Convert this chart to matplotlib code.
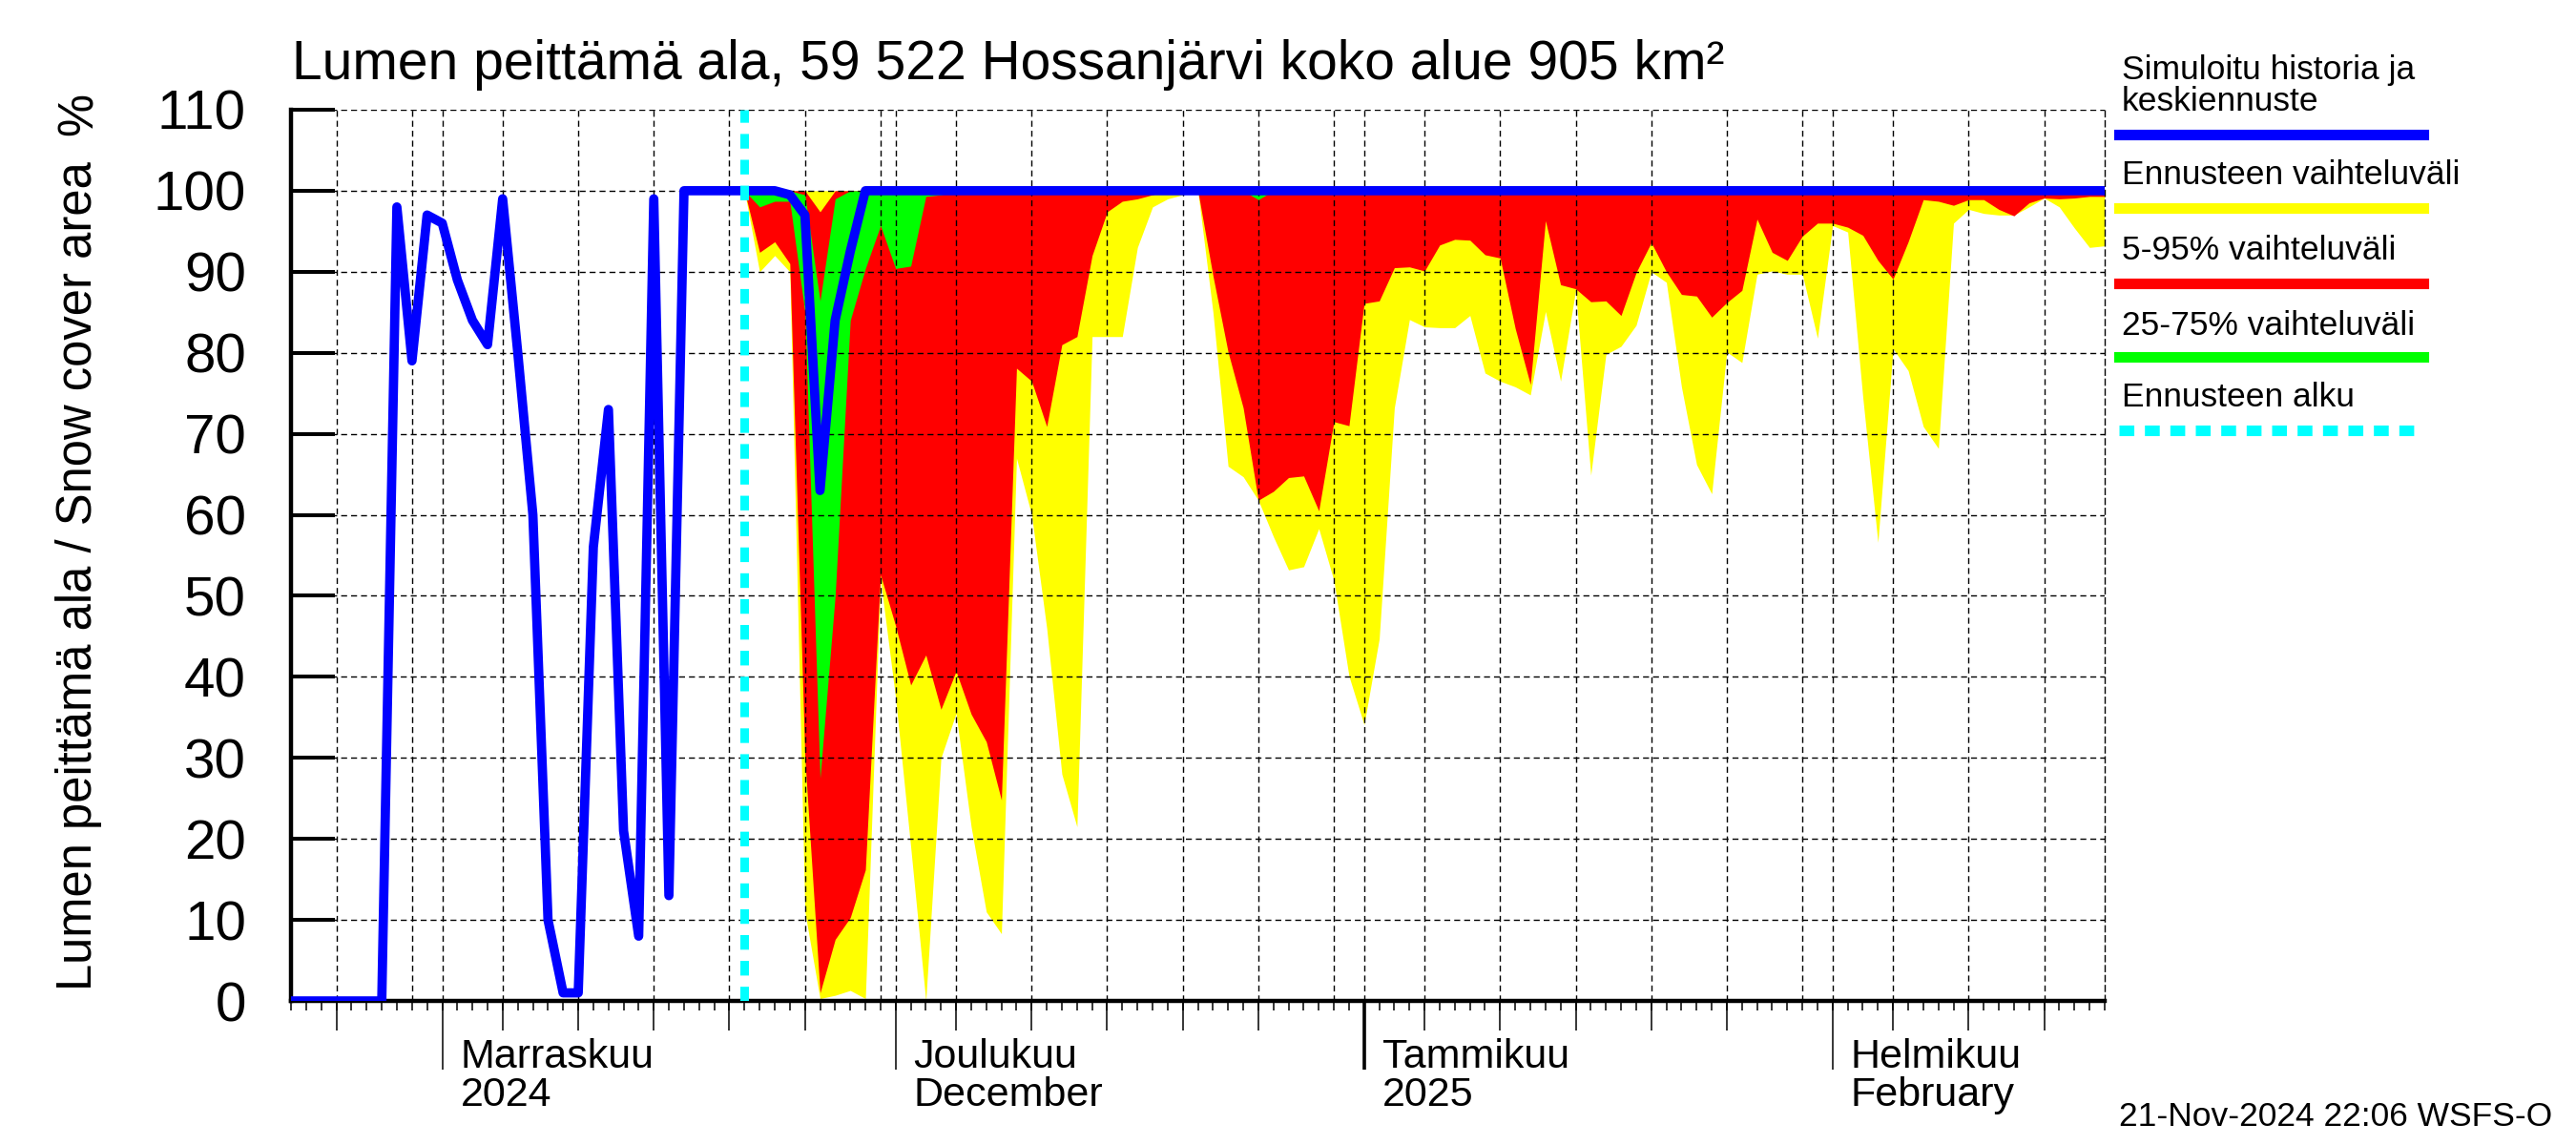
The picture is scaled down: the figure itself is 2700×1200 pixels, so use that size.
import numpy as np
import pandas as pd
import matplotlib
matplotlib.use('Agg')
import matplotlib.pyplot as plt
import matplotlib.dates as mdates
from matplotlib.lines import Line2D
from matplotlib.transforms import blended_transform_factory, ScaledTranslation

plt.rcParams['font.family'] = ['Liberation Sans', 'DejaVu Sans']

# Data (daily values, first day 22 Oct 2024)
start_day = '2024-10-22'
forecast_day = '2024-11-21'

# simulated history + mean forecast (d0 .. d120)
mean_line = [0, 0, 0, 0, 0, 0, 0, 98, 79, 97,
             96, 89, 84, 81, 99, 80, 60, 10, 1, 1,
             56, 73, 21, 8, 99, 13, 100, 100, 100, 100,
             100, 100, 100, 99.5, 97, 63, 84, 92.5, 100, 100,
             100, 100, 100, 100, 100, 100, 100, 100, 100, 100,
             100, 100, 100, 100, 100, 100, 100, 100, 100, 100,
             100, 100, 100, 100, 100, 100, 100, 100, 100, 100,
             100, 100, 100, 100, 100, 100, 100, 100, 100, 100,
             100, 100, 100, 100, 100, 100, 100, 100, 100, 100,
             100, 100, 100, 100, 100, 100, 100, 100, 100, 100,
             100, 100, 100, 100, 100, 100, 100, 100, 100, 100,
             100, 100, 100, 100, 100, 100, 100, 100, 100, 100,
             100]

# forecast bands (d30 .. d120)
yellow_low = [100, 90, 92, 90, 11, 0.3, 0.7, 1.3, 0.3, 52,
              37.4, 19, 0, 30, 35.5, 21.5, 11, 8.3, 67, 60,
              46, 28, 21.5, 82, 82, 82, 93, 98, 99, 99.5,
              100, 85, 66, 64.7, 61.8, 57.3, 53.2, 53.6, 58.3, 51.9,
              40.1, 34.1, 44.7, 73.2, 84.1, 83.2, 83.1, 83.1, 84.6, 77.5,
              76.5, 75.8, 74.8, 85.1, 76.5, 87.7, 64.9, 79.8, 80.8, 83.4,
              90, 88.7, 75.8, 66.2, 62.6, 80.1, 78.8, 89.7, 90.1, 89.7,
              89.7, 81.8, 95.7, 94.9, 74.5, 56.6, 80.5, 77.8, 70.9, 68.2,
              96, 97.7, 97.2, 97, 97, 98, 99.1, 98, 95.4, 93,
              93.2]
yellow_high = [100] * 91

red_low = [100, 92.4, 93.7, 91, 30, 1, 7.6, 10.3, 16.2, 52.6,
           46.3, 39, 42.7, 36, 40.7, 35.4, 32, 24.8, 78.1, 76.5,
           70.9, 81, 82, 92, 97.4, 98.7, 99, 99.5, 100, 100,
           100, 89.5, 80.1, 73.2, 61.8, 62.9, 64.6, 64.8, 60.5, 71.5,
           71, 86.1, 86.4, 90.5, 90.6, 90.1, 93.3, 94, 93.9, 92.1,
           91.7, 83, 76.1, 96.3, 88.4, 87.9, 86.3, 86.4, 84.6, 89.9,
           93.6, 90, 87.2, 87, 84.4, 86.2, 87.7, 96.5, 92.4, 91.4,
           94.4, 96, 96, 95.5, 94.5, 91.4, 89.1, 93.7, 98.9, 98.7,
           98.2, 98.9, 98.9, 97.7, 96.9, 98.5, 99.1, 99, 99.1, 99.3,
           99.3]
red_high = [100, 100, 100, 100, 100, 97.4, 100, 100, 100, 100] + [100] * 81

green_low = [100, 98, 98.7, 98.7, 85, 27.5, 50, 84, 90.4, 95.7,
             90.4, 90.7, 99.3, 99.5, 100, 100, 100, 100, 100, 100,
             100, 100, 100, 100, 100, 100, 100, 100, 100, 100,
             100, 100, 100, 100, 98.9, 100, 100, 100, 100, 100,
             100, 100, 100, 100, 100, 100, 100, 100, 100, 100,
             100, 100, 100, 100, 100, 100, 100, 100, 100, 100,
             100, 100, 100, 100, 100, 100, 100, 100, 100, 100,
             100, 100, 100, 100, 100, 100, 100, 100, 100, 100,
             100, 100, 100, 100, 100, 100, 100, 100, 100, 100,
             100]
green_high = [100, 100, 100, 100, 99.5, 86.4, 99, 100, 100, 100] + [100] * 81

month_starts = ['2024-11-01', '2024-12-01', '2025-01-01', '2025-02-01']
month_labels = ['Marraskuu\n2024', 'Joulukuu\nDecember',
                'Tammikuu\n2025', 'Helmikuu\nFebruary']

dates = pd.date_range(start_day, periods=len(mean_line), freq='D')
fc_dates = dates[dates >= pd.Timestamp(forecast_day)]

grid_style = (0, (4.5, 3))

fig = plt.figure(figsize=(27, 12), dpi=100)
ax = fig.add_axes([0.1130, 0.1258, 0.7040, 0.7784])

ax.fill_between(fc_dates, yellow_low, yellow_high, color='#ffff00', lw=0, zorder=1)
ax.fill_between(fc_dates, red_low, red_high, color='#ff0000', lw=0, zorder=1.1)
ax.fill_between(fc_dates, green_low, green_high, color='#00ff00', lw=0, zorder=1.2)
ax.plot(dates, mean_line, color='#0000ff', lw=7, zorder=3)
ax.axvline(pd.Timestamp(forecast_day), color='#00ffff', lw=6.5,
           linestyle=(0, (1.7, 1.3)), zorder=4)

ax.set_xlim(dates[0], dates[-1])
ax.set_ylim(0, 110)

# y axis
ax.set_yticks(np.arange(0, 111, 10))
ax.tick_params(axis='y', direction='in', length=33, width=2.9, pad=34,
               labelsize=42)
ax.yaxis.grid(True, color='black', lw=1.0, linestyle=grid_style)

# x axis: grid every 5 days, short daily ticks
ax.xaxis.set_major_locator(mdates.DayLocator(bymonthday=[1, 5, 10, 15, 20, 25, 30]))
ax.xaxis.set_minor_locator(mdates.DayLocator())
ax.xaxis.set_major_formatter(plt.NullFormatter())
ax.tick_params(axis='x', which='both', direction='out', length=7, width=1.1,
               labelbottom=False)
ax.xaxis.grid(True, which='major', color='black', lw=1.0, linestyle=grid_style)
ax.set_axisbelow(False)

for side in ['left', 'bottom']:
    ax.spines[side].set_linewidth(3.2)
ax.spines['top'].set_visible(False)
ax.spines['right'].set_linestyle(grid_style)
ax.spines['right'].set_linewidth(1.0)

# medium ticks (5-day) and long ticks (month starts)
sec_mid = ax.secondary_xaxis('bottom')
sec_mid.xaxis.set_major_locator(mdates.DayLocator(bymonthday=[5, 10, 15, 20, 25]))
sec_mid.tick_params(length=22, width=1.1, labelbottom=False)
sec_mid.spines['bottom'].set_visible(False)

sec_mon = ax.secondary_xaxis('bottom')
sec_mon.xaxis.set_major_locator(mdates.MonthLocator())
sec_mon.tick_params(length=52, width=1.1, labelbottom=False)
sec_mon.spines['bottom'].set_visible(False)

sec_year = ax.secondary_xaxis('bottom')
sec_year.xaxis.set_major_locator(mdates.YearLocator())
sec_year.tick_params(length=52, width=2.6, labelbottom=False)
sec_year.spines['bottom'].set_visible(False)

lab_trans = blended_transform_factory(ax.transData, ax.transAxes) + \
    ScaledTranslation(0.19, 0, fig.dpi_scale_trans)
for m, lab in zip(month_starts, month_labels):
    ax.text(pd.Timestamp(m), -0.085, lab, transform=lab_trans, ha='left',
            va='center', fontsize=31, linespacing=1.0)

# titles
fig.text(0.1133, 0.943, 'Lumen peittämä ala, 59 522 Hossanjärvi koko alue 905 km²',
         ha='left', va='center', fontsize=41)
fig.text(0.0307, 0.497, 'Lumen peittämä ala / Snow cover area', rotation=90,
         ha='center', va='center', fontsize=36.5)
fig.text(0.0307, 0.900, '%', rotation=90, ha='center', va='center', fontsize=36.5)

# legend
lx0, lx1 = 0.8226, 0.9407
legend_rows = [
    (['Simuloitu historia ja', 'keskiennuste'], [0.9386, 0.9114], 0.8829, '#0000ff', '-'),
    (['Ennusteen vaihteluväli'], [0.8472], 0.8186, '#ffff00', '-'),
    (['5-95% vaihteluväli'], [0.7815], 0.7529, '#ff0000', '-'),
    (['25-75% vaihteluväli'], [0.7158], 0.6886, '#00ff00', '-'),
    (['Ennusteen alku'], [0.6529], 0.6243, '#00ffff', (0, (1.4, 1.0))),
]
for texts, tys, ly, col, ls in legend_rows:
    for t, ty in zip(texts, tys):
        fig.text(lx0 + 0.001, ty, t, ha='left', va='center', fontsize=25.5)
    fig.add_artist(Line2D([lx0, lx1], [ly, ly], transform=fig.transFigure,
                          color=col, lw=8, linestyle=ls))

fig.text(0.8226, 0.0242, '21-Nov-2024 22:06 WSFS-O', ha='left', va='center',
         fontsize=25.5)

fig.savefig('out.png', dpi=100)
